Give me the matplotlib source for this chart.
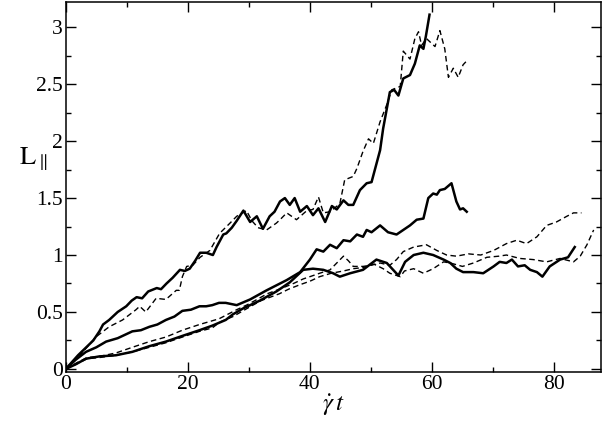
import numpy as np
import matplotlib.pyplot as plt
from matplotlib.ticker import MultipleLocator

# L_parallel vs strain, three runs each with solid and dashed curves
plt.rcParams['font.family'] = ['Liberation Serif', 'DejaVu Serif']
plt.rcParams['mathtext.fontset'] = 'stix'

# top pair
top_solid_x = [0, 2, 4.5, 5.5, 6.1, 7.1, 8.5, 9.9, 10.8, 11.6, 12.5, 13.5, 14.9, 15.6, 16.5,
               17.5, 18.7, 19.5, 20.3, 21.2, 22, 23, 24.1, 24.7, 25.8, 26.3, 27.2, 28, 29.1,
               30.2, 31.3, 32.3, 33.4, 34.2, 35.1, 35.9, 36.7, 37.5, 38.4, 39.5, 40.5, 41.4,
               42.5, 43.6, 44.4, 45.5, 46.3, 47.1, 48.2, 49.3, 50.1, 50.9, 51.5, 52, 53.1,
               53.8, 54.5, 55.3, 56.4, 57.2, 58, 58.6, 59, 59.6]
top_solid_y = [0, 0.12, 0.25, 0.33, 0.39, 0.43, 0.5, 0.55, 0.6, 0.63, 0.62, 0.68, 0.71, 0.70, 0.75,
               0.80, 0.87, 0.86, 0.88, 0.95, 1.02, 1.02, 1.0, 1.07, 1.18, 1.19, 1.24, 1.30, 1.39,
               1.29, 1.34, 1.23, 1.34, 1.38, 1.47, 1.50, 1.44, 1.50, 1.38, 1.43, 1.35, 1.41,
               1.29, 1.43, 1.40, 1.48, 1.44, 1.44, 1.57, 1.63, 1.64, 1.80, 1.92, 2.11, 2.43,
               2.45, 2.40, 2.55, 2.58, 2.68, 2.84, 2.81, 2.92, 3.11]
top_dash_x = [0, 2, 4.9, 7.1, 9.3, 11.5, 12.1, 13.1, 14.8, 16.4, 18.1, 18.6, 19.1, 19.8, 20.8,
              22, 23.6, 25.2, 26.9, 28, 29.6, 30.5, 31.5, 32.9, 34.5, 35.1, 36.2, 37.8, 39.5,
              40.5, 41.4, 42.2, 43.3, 44.9, 45.7, 47.1, 47.7, 48.7, 49.6, 50.4, 51.5, 52.6,
              53.4, 54.8, 55.3, 56.4, 57.2, 57.8, 58.3, 59.1, 60.5, 61.3, 62.1, 62.7, 63.5,
              64.3, 65.1, 65.8]
top_dash_y = [0, 0.1, 0.28, 0.37, 0.43, 0.52, 0.55, 0.50, 0.62, 0.61, 0.69, 0.69, 0.81, 0.90, 0.91,
              0.98, 1.04, 1.19, 1.28, 1.34, 1.39, 1.30, 1.24, 1.22, 1.28, 1.31, 1.37, 1.31, 1.39,
              1.40, 1.51, 1.37, 1.38, 1.45, 1.66, 1.69, 1.76, 1.91, 2.02, 1.98, 2.17, 2.32,
              2.45, 2.48, 2.79, 2.72, 2.90, 2.96, 2.84, 2.90, 2.83, 2.97, 2.81, 2.56, 2.64,
              2.56, 2.67, 2.71]

# middle solid
mid_solid_x = [0, 1.6, 3.3, 5, 6.6, 8.5, 10.9, 12.3, 13.7, 15, 16.4, 17.8, 19.1, 20.5, 21.9,
               23, 24, 25.1, 26.2, 28, 30.2, 32.9, 36.2, 38.4, 40, 41.1, 42.2, 43.3, 44.4, 45.5,
               46.6, 47.7, 48.7, 49.3, 50.1, 51.5, 52.8, 54.2, 55.3, 56.4, 57.5, 58.6, 59.4,
               60.2, 60.8, 61.3, 62.1, 63.2, 64, 64.6, 65.1, 65.7]
mid_solid_y = [0, 0.08, 0.15, 0.19, 0.24, 0.27, 0.33, 0.34, 0.37, 0.39, 0.43, 0.46, 0.51, 0.52, 0.55,
               0.55, 0.56, 0.58, 0.58, 0.56, 0.61, 0.69, 0.78, 0.85, 0.96, 1.05, 1.03, 1.09, 1.06, 1.13,
               1.12, 1.18, 1.16, 1.22, 1.20, 1.26, 1.20, 1.18, 1.22, 1.26, 1.31, 1.32, 1.50,
               1.54, 1.53, 1.57, 1.58, 1.63, 1.47, 1.40, 1.41, 1.38]

# bottom solid
low_solid_x = [0, 1.6, 3.3, 5.5, 8.2, 10.9, 13.7, 16.4, 19.1, 21.9, 24, 26.2, 27.4, 29, 31.8,
               34.5, 36.7, 38.9, 40.5, 42.2, 43.8, 44.9, 46.6, 48.7, 50.9, 52.6, 54.5, 55.6,
               57, 58.6, 60.2, 61.9, 63, 64, 65.1, 66.8, 68.4, 70.1, 71.1, 72.2, 73.1, 74.1,
               75.2, 76.1, 77.2, 78.1, 79.3, 81, 82.3, 83.4]
low_solid_y = [0, 0.04, 0.09, 0.11, 0.12, 0.15, 0.20, 0.24, 0.29, 0.34, 0.38, 0.43, 0.48, 0.53, 0.60,
               0.68, 0.76, 0.87, 0.88, 0.87, 0.84, 0.81, 0.84, 0.87, 0.96, 0.93, 0.82, 0.94,
               1.0, 1.02, 1.0, 0.96, 0.93, 0.88, 0.85, 0.85, 0.84, 0.90, 0.94, 0.93, 0.96, 0.90,
               0.91, 0.87, 0.85, 0.81, 0.90, 0.96, 0.98, 1.07]

# lower dashed pair
dash1_x = [0, 2, 3.5, 5.5, 8.2, 10.9, 13.7, 16.4, 19.1, 21.9, 25.1, 28, 29.6, 31, 33, 35, 37.3,
           38.9, 40, 41.6, 43.3, 44.4, 45.5, 46.3, 47.1, 48.7, 50, 51.5, 53.1, 54.2, 55.3, 57,
           59.1, 60.8, 62.4, 64, 66, 68, 70.1, 72.2, 73.9, 75.5, 77.2, 78.8, 80.4, 82.1, 83.2, 84.5]
dash1_y = [0, 0.06, 0.1, 0.11, 0.14, 0.19, 0.24, 0.28, 0.34, 0.39, 0.44, 0.52, 0.56, 0.60, 0.66, 0.70, 0.75,
           0.79, 0.81, 0.84, 0.87, 0.93, 0.99, 0.95, 0.90, 0.90, 0.91, 0.93, 0.91, 0.96, 1.03, 1.07,
           1.09, 1.04, 1.0, 0.99, 1.01, 1.0, 1.04, 1.10, 1.13, 1.10, 1.16, 1.26, 1.29, 1.34, 1.37, 1.37]
dash2_x = [0, 2, 3.5, 5.5, 8.2, 10.9, 13.7, 16.4, 19.1, 21.9, 24, 25.2, 27.4, 30, 32, 35, 36.5,
           38.4, 40, 41.6, 43.5, 45.5, 47.1, 48.7, 50.5, 52, 53.1, 54.8, 55.5, 57, 58.6, 60.2,
           61.9, 63, 65, 66.8, 69, 71, 72.2, 74.4, 76.6, 78.8, 81, 83.2, 84.3, 85.4, 86.5]
dash2_y = [0, 0.05, 0.09, 0.10, 0.12, 0.15, 0.19, 0.23, 0.28, 0.33, 0.36, 0.41, 0.46, 0.54, 0.60, 0.66, 0.70,
           0.74, 0.77, 0.81, 0.84, 0.86, 0.88, 0.89, 0.92, 0.88, 0.84, 0.81, 0.86, 0.88, 0.84, 0.88,
           0.94, 0.93, 0.90, 0.93, 0.98, 0.99, 1.0, 0.97, 0.96, 0.94, 0.97, 0.94, 0.99, 1.09, 1.22]

fig = plt.figure(figsize=(6.04, 4.26), dpi=100)
ax = fig.add_axes([0.109, 0.127, 0.886, 0.868])

solid = dict(color='black', lw=1.8)
dashed = dict(color='black', lw=1.0, dashes=(4, 2.5))

ax.plot(top_solid_x, top_solid_y, **solid)
ax.plot(top_dash_x, top_dash_y, **dashed)
ax.plot(mid_solid_x, mid_solid_y, **solid)
ax.plot(low_solid_x, low_solid_y, **solid)
ax.plot(dash1_x, dash1_y, **dashed)
ax.plot(dash2_x, dash2_y, **dashed)

ax.set_xlim(0, 87.7)
ax.set_ylim(-0.026, 3.22)
ax.xaxis.set_major_locator(MultipleLocator(20))
ax.xaxis.set_minor_locator(MultipleLocator(10))
ax.yaxis.set_minor_locator(MultipleLocator(0.25))
ax.set_yticks([0, 0.5, 1, 1.5, 2, 2.5, 3])
ax.set_yticklabels(['0', '0.5', '1', '1.5', '2', '2.5', '3'])

ax.tick_params(which='both', direction='in', top=True, right=True, labelsize=15.5, pad=2)
ax.tick_params(which='major', length=7, width=1)
ax.tick_params(which='minor', length=3.5, width=1)
for s in ax.spines.values():
    s.set_linewidth(1.1)

ax.set_xlabel(r'$\dot{\gamma}\,t$', fontsize=18, labelpad=-1)
fig.text(0.055, 0.625, r'$\mathrm{L}_{\parallel}$', fontsize=19, ha='center', va='center')

fig.savefig('out.png', dpi=100)
